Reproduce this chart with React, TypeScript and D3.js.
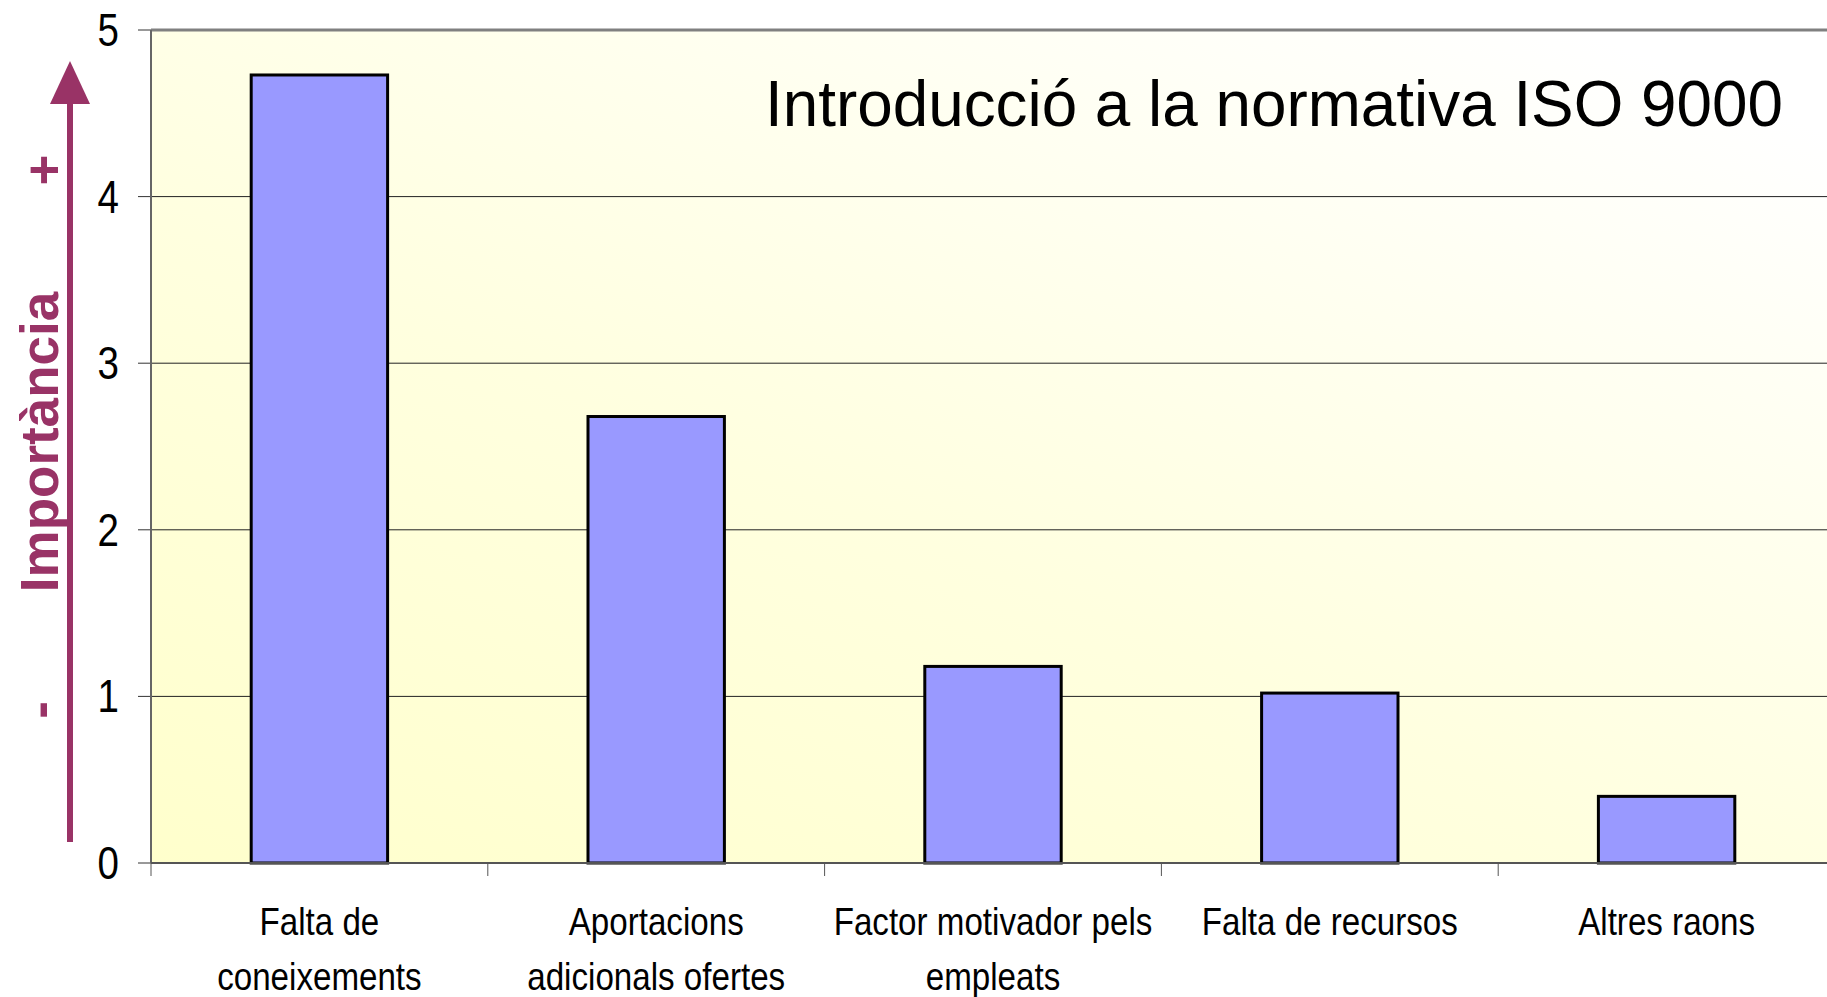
import { useEffect, useRef } from 'react';
import * as d3 from 'd3';

const categories = [
  ['Falta de', 'coneixements'],
  ['Aportacions', 'adicionals ofertes'],
  ['Factor motivador pels', 'empleats'],
  ['Falta de recursos'],
  ['Altres raons'],
];
const values = [4.73, 2.68, 1.18, 1.02, 0.4];
const yTicks = [0, 1, 2, 3, 4, 5];
const title = 'Introducció a la normativa ISO 9000';
const axisLabel = 'Importància';

const W = 1827;
const H = 997;
const FONT = '"Liberation Sans", Arial, sans-serif';
const PURPLE = '#993366';

export default function App() {
  const ref = useRef<SVGSVGElement>(null);

  useEffect(() => {
    if (!ref.current) return;
    const svg = d3.select(ref.current);
    svg.selectAll('*').remove();

    const plot = { left: 151, top: 30, right: 1835, bottom: 863 };
    const keys = categories.map((c) => c.join(' '));

    const x = d3.scaleBand<string>().domain(keys).range([plot.left, plot.right]).padding(0);
    const y = d3.scaleLinear().domain([0, 5]).range([plot.bottom, plot.top]);
    const barW = x.bandwidth() * 0.405;

    const defs = svg.append('defs');
    const grad = defs
      .append('linearGradient')
      .attr('id', 'bg')
      .attr('x1', 0)
      .attr('y1', 1)
      .attr('x2', 0.85)
      .attr('y2', 0);
    grad.append('stop').attr('offset', '0%').attr('stop-color', '#ffffcc');
    grad.append('stop').attr('offset', '45%').attr('stop-color', '#ffffdf');
    grad.append('stop').attr('offset', '100%').attr('stop-color', '#ffffff');

    // plot background
    svg
      .append('rect')
      .attr('x', plot.left)
      .attr('y', plot.top)
      .attr('width', plot.right - plot.left)
      .attr('height', plot.bottom - plot.top)
      .attr('fill', 'url(#bg)');

    // gridlines
    svg
      .append('g')
      .selectAll('line')
      .data(yTicks.filter((t) => t > 0 && t < 5))
      .join('line')
      .attr('x1', plot.left)
      .attr('x2', plot.right)
      .attr('y1', (d) => y(d))
      .attr('y2', (d) => y(d))
      .attr('stroke', '#222')
      .attr('stroke-width', 1);

    // top border
    svg
      .append('line')
      .attr('x1', plot.left)
      .attr('x2', plot.right)
      .attr('y1', plot.top)
      .attr('y2', plot.top)
      .attr('stroke', '#808080')
      .attr('stroke-width', 3);

    // y ticks + labels
    const yg = svg.append('g');
    yg.selectAll('line')
      .data(yTicks)
      .join('line')
      .attr('x1', plot.left - 13)
      .attr('x2', plot.left)
      .attr('y1', (d) => y(d))
      .attr('y2', (d) => y(d))
      .attr('stroke', '#333');
    yg.selectAll('text')
      .data(yTicks)
      .join('text')
      .attr('transform', (d) => `translate(119,${y(d) + 16}) scale(0.82,1)`)
      .attr('text-anchor', 'end')
      .attr('font-family', FONT)
      .attr('font-size', 47)
      .attr('fill', '#000')
      .text((d) => d);

    // bars
    svg
      .append('g')
      .selectAll('rect')
      .data(values)
      .join('rect')
      .attr('x', (_, i) => x(keys[i])! + (x.bandwidth() - barW) / 2)
      .attr('y', (d) => y(d))
      .attr('width', barW)
      .attr('height', (d) => y(0) - y(d))
      .attr('fill', '#9999ff')
      .attr('stroke', '#000')
      .attr('stroke-width', 3);

    // axes lines
    svg
      .append('line')
      .attr('x1', plot.left)
      .attr('x2', plot.left)
      .attr('y1', plot.top)
      .attr('y2', plot.bottom)
      .attr('stroke', '#666')
      .attr('stroke-width', 2);
    svg
      .append('line')
      .attr('x1', plot.left)
      .attr('x2', plot.right)
      .attr('y1', plot.bottom)
      .attr('y2', plot.bottom)
      .attr('stroke', '#555')
      .attr('stroke-width', 2);

    // category ticks
    svg
      .append('g')
      .selectAll('line')
      .data(keys)
      .join('line')
      .attr('x1', (d) => x(d)!)
      .attr('x2', (d) => x(d)!)
      .attr('y1', plot.bottom)
      .attr('y2', plot.bottom + 13)
      .attr('stroke', '#555');

    // category labels
    const cg = svg.append('g');
    categories.forEach((lines, i) => {
      const cx = x(keys[i])! + x.bandwidth() / 2;
      lines.forEach((ln, j) => {
        cg.append('text')
          .attr('transform', `translate(${cx},${935 + j * 55}) scale(0.85,1)`)
          .attr('text-anchor', 'middle')
          .attr('font-family', FONT)
          .attr('font-size', 39)
          .attr('fill', '#000')
          .text(ln);
      });
    });

    // title
    svg
      .append('text')
      .attr('x', 765)
      .attr('y', 126)
      .attr('textLength', 1018)
      .attr('lengthAdjust', 'spacingAndGlyphs')
      .attr('font-family', FONT)
      .attr('font-size', 65)
      .attr('fill', '#000')
      .text(title);

    // importance arrow
    svg
      .append('line')
      .attr('x1', 70)
      .attr('x2', 70)
      .attr('y1', 100)
      .attr('y2', 842)
      .attr('stroke', PURPLE)
      .attr('stroke-width', 6);
    svg
      .append('path')
      .attr('d', d3.line()([[70, 61], [90, 104], [50, 104]]) + 'Z')
      .attr('fill', PURPLE);

    const rot = (txt: string, cx: number, cy: number) =>
      svg
        .append('text')
        .attr('transform', `translate(${cx},${cy}) rotate(-90)`)
        .attr('text-anchor', 'middle')
        .attr('font-family', FONT)
        .attr('font-weight', 'bold')
        .attr('font-size', 53)
        .attr('fill', PURPLE)
        .text(txt);
    rot(axisLabel, 58, 442);
    rot('+', 62, 170);
    rot('-', 58, 710);
  }, []);

  return <svg ref={ref} width={W} height={H} style={{ position: 'absolute', left: 0, top: 0 }} />;
}
